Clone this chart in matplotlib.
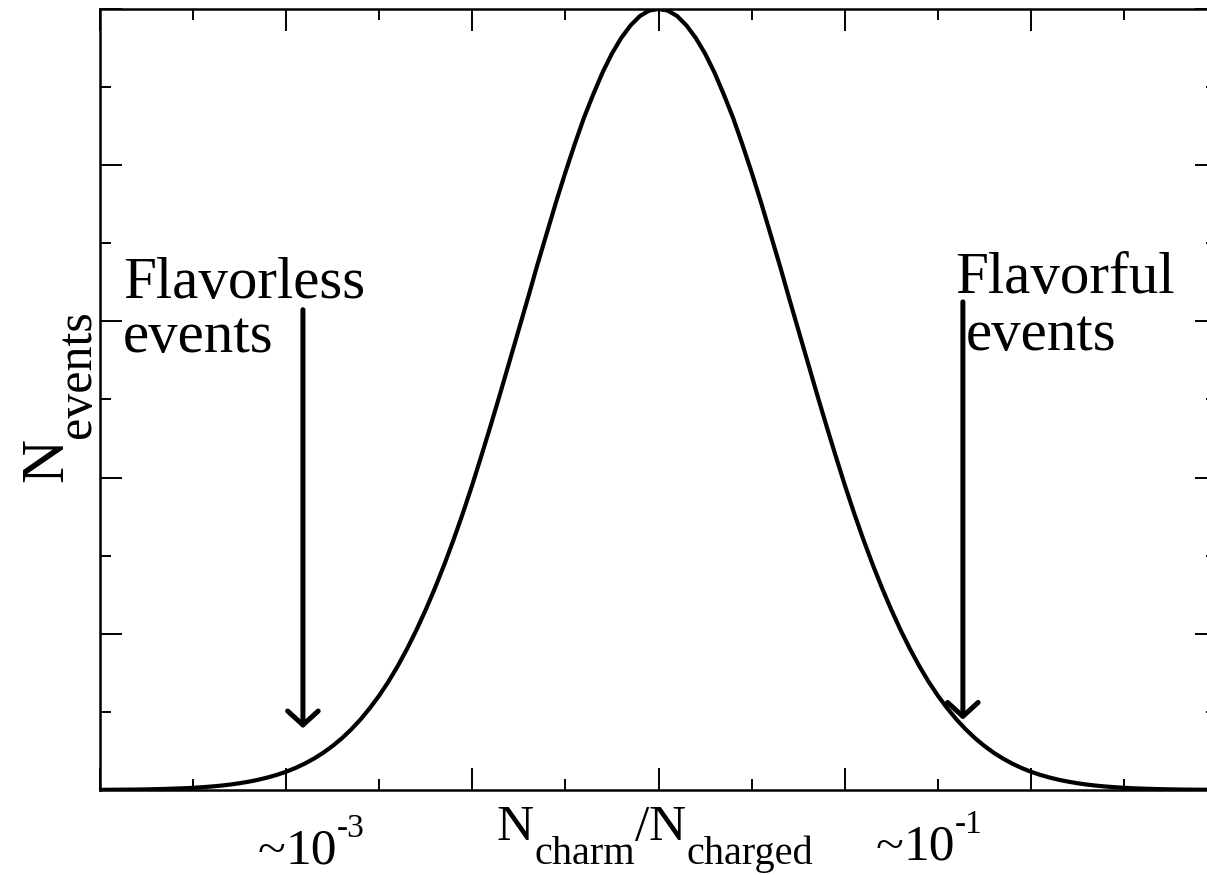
import numpy as np
import matplotlib
matplotlib.use("Agg")
import matplotlib.pyplot as plt
from matplotlib.ticker import MultipleLocator
from matplotlib.transforms import IdentityTransform

plt.rcParams['font.family'] = ['Liberation Serif', 'DejaVu Serif']

# curve (x in major-tick units, y as fraction of the peak)
x_vals = np.round(np.arange(0, 6.001, 0.05), 2)
y_left = [0.0002, 0.0003, 0.0004, 0.0005, 0.0006, 0.0008, 0.0011, 0.0014, 0.0018, 0.0022,
          0.0028, 0.0036, 0.0045, 0.0056, 0.0070, 0.0087, 0.0107, 0.0131, 0.0160, 0.0194,
          0.0234, 0.0282, 0.0338, 0.0403, 0.0478, 0.0565, 0.0664, 0.0777, 0.0905, 0.105,
          0.121, 0.139, 0.159, 0.181, 0.205, 0.231, 0.259, 0.289, 0.321, 0.355,
          0.391, 0.429, 0.468, 0.508, 0.549, 0.590, 0.631, 0.673, 0.713, 0.753,
          0.791, 0.827, 0.861, 0.891, 0.919, 0.943, 0.963, 0.979, 0.991, 0.998]
y_peak = [1.000]
y_right = [0.998, 0.991, 0.979, 0.963, 0.943, 0.919, 0.891, 0.861, 0.827, 0.791,
           0.753, 0.713, 0.673, 0.631, 0.590, 0.549, 0.508, 0.468, 0.429, 0.391,
           0.355, 0.321, 0.289, 0.259, 0.231, 0.205, 0.181, 0.159, 0.139, 0.121,
           0.105, 0.0905, 0.0777, 0.0664, 0.0565, 0.0478, 0.0403, 0.0338, 0.0282, 0.0234,
           0.0194, 0.0160, 0.0131, 0.0107, 0.0087, 0.0070, 0.0056, 0.0045, 0.0036, 0.0028,
           0.0022, 0.0018, 0.0014, 0.0011, 0.0008, 0.0006, 0.0005, 0.0004, 0.0003, 0.0002]
y_vals = y_left + y_peak + y_right

left_lines = ["Flavorless", "events"]
left_text_x = [0.124, 0.124]
left_text_y = [0.630, 0.561]
left_arrow = (1.09, 0.615, 0.079)

right_lines = ["Flavorful", "events"]
right_text_x = [4.593, 4.652]
right_text_y = [0.636, 0.563]
right_arrow = (4.635, 0.625, 0.090)

H = 875


def draw_runs(fig, x0, y0, runs, rotation=0):
    # runs: (text, fontsize, raise in px); placed one after another on a baseline
    r = fig.canvas.get_renderer()
    pos = x0
    for txt, size, dy in runs:
        if rotation == 0:
            t = fig.text(pos, y0 + dy, txt, fontsize=size, ha='left', va='baseline',
                         transform=IdentityTransform())
            pos += t.get_window_extent(r).width
        else:
            t = fig.text(y0 - dy, pos, txt, fontsize=size, ha='left', va='baseline',
                         rotation=90, rotation_mode='anchor',
                         transform=IdentityTransform())
            pos += t.get_window_extent(r).height


def main():
    fig = plt.figure(figsize=(12.07, 8.75), dpi=100)
    ax = fig.add_axes([100 / 1207, 85 / 875, 1117 / 1207, 781 / 875])

    ax.plot(x_vals, y_vals, color='black', lw=3.0)
    ax.set_xlim(0, 6)
    ax.set_ylim(0, 1)

    ax.xaxis.set_major_locator(MultipleLocator(1))
    ax.xaxis.set_minor_locator(MultipleLocator(0.5))
    ax.yaxis.set_major_locator(MultipleLocator(0.2))
    ax.yaxis.set_minor_locator(MultipleLocator(0.1))
    ax.tick_params(which='both', direction='in', top=True, right=True,
                   labelbottom=False, labelleft=False, width=1.4)
    ax.tick_params(which='major', length=16)
    ax.tick_params(which='minor', length=8)
    for s in ax.spines.values():
        s.set_linewidth(1.8)

    fs = 42.5
    for txt, tx, ty in zip(left_lines, left_text_x, left_text_y):
        ax.text(tx, ty, txt, fontsize=fs, ha='left', va='baseline')
    for txt, tx, ty in zip(right_lines, right_text_x, right_text_y):
        ax.text(tx, ty, txt, fontsize=fs, ha='left', va='baseline')

    for ax_x, y0, y1 in [left_arrow, right_arrow]:
        ax.annotate('', xy=(ax_x, y1), xytext=(ax_x, y0),
                    arrowprops=dict(arrowstyle='->,head_length=0.5,head_width=0.55',
                                    lw=3.6, color='black', mutation_scale=20,
                                    shrinkA=0, shrinkB=0))

    fig.canvas.draw()
    draw_runs(fig, 258, H - 864, [("~", 37, 0), ("10", 37, 0), ("-3", 24, 27)])
    draw_runs(fig, 876, H - 860, [("~", 37, 0), ("10", 37, 0), ("-1", 24, 27)])
    draw_runs(fig, 497, H - 840, [("N", 37, 0), ("charm", 29, -24), ("/", 37, 0),
                                  ("N", 37, 0), ("charged", 29, -24)])
    draw_runs(fig, H - 482, 62, [("N", 44, 0), ("events", 36, -28)], rotation=90)

    fig.savefig('out.png', dpi=100)


if __name__ == '__main__':
    main()
